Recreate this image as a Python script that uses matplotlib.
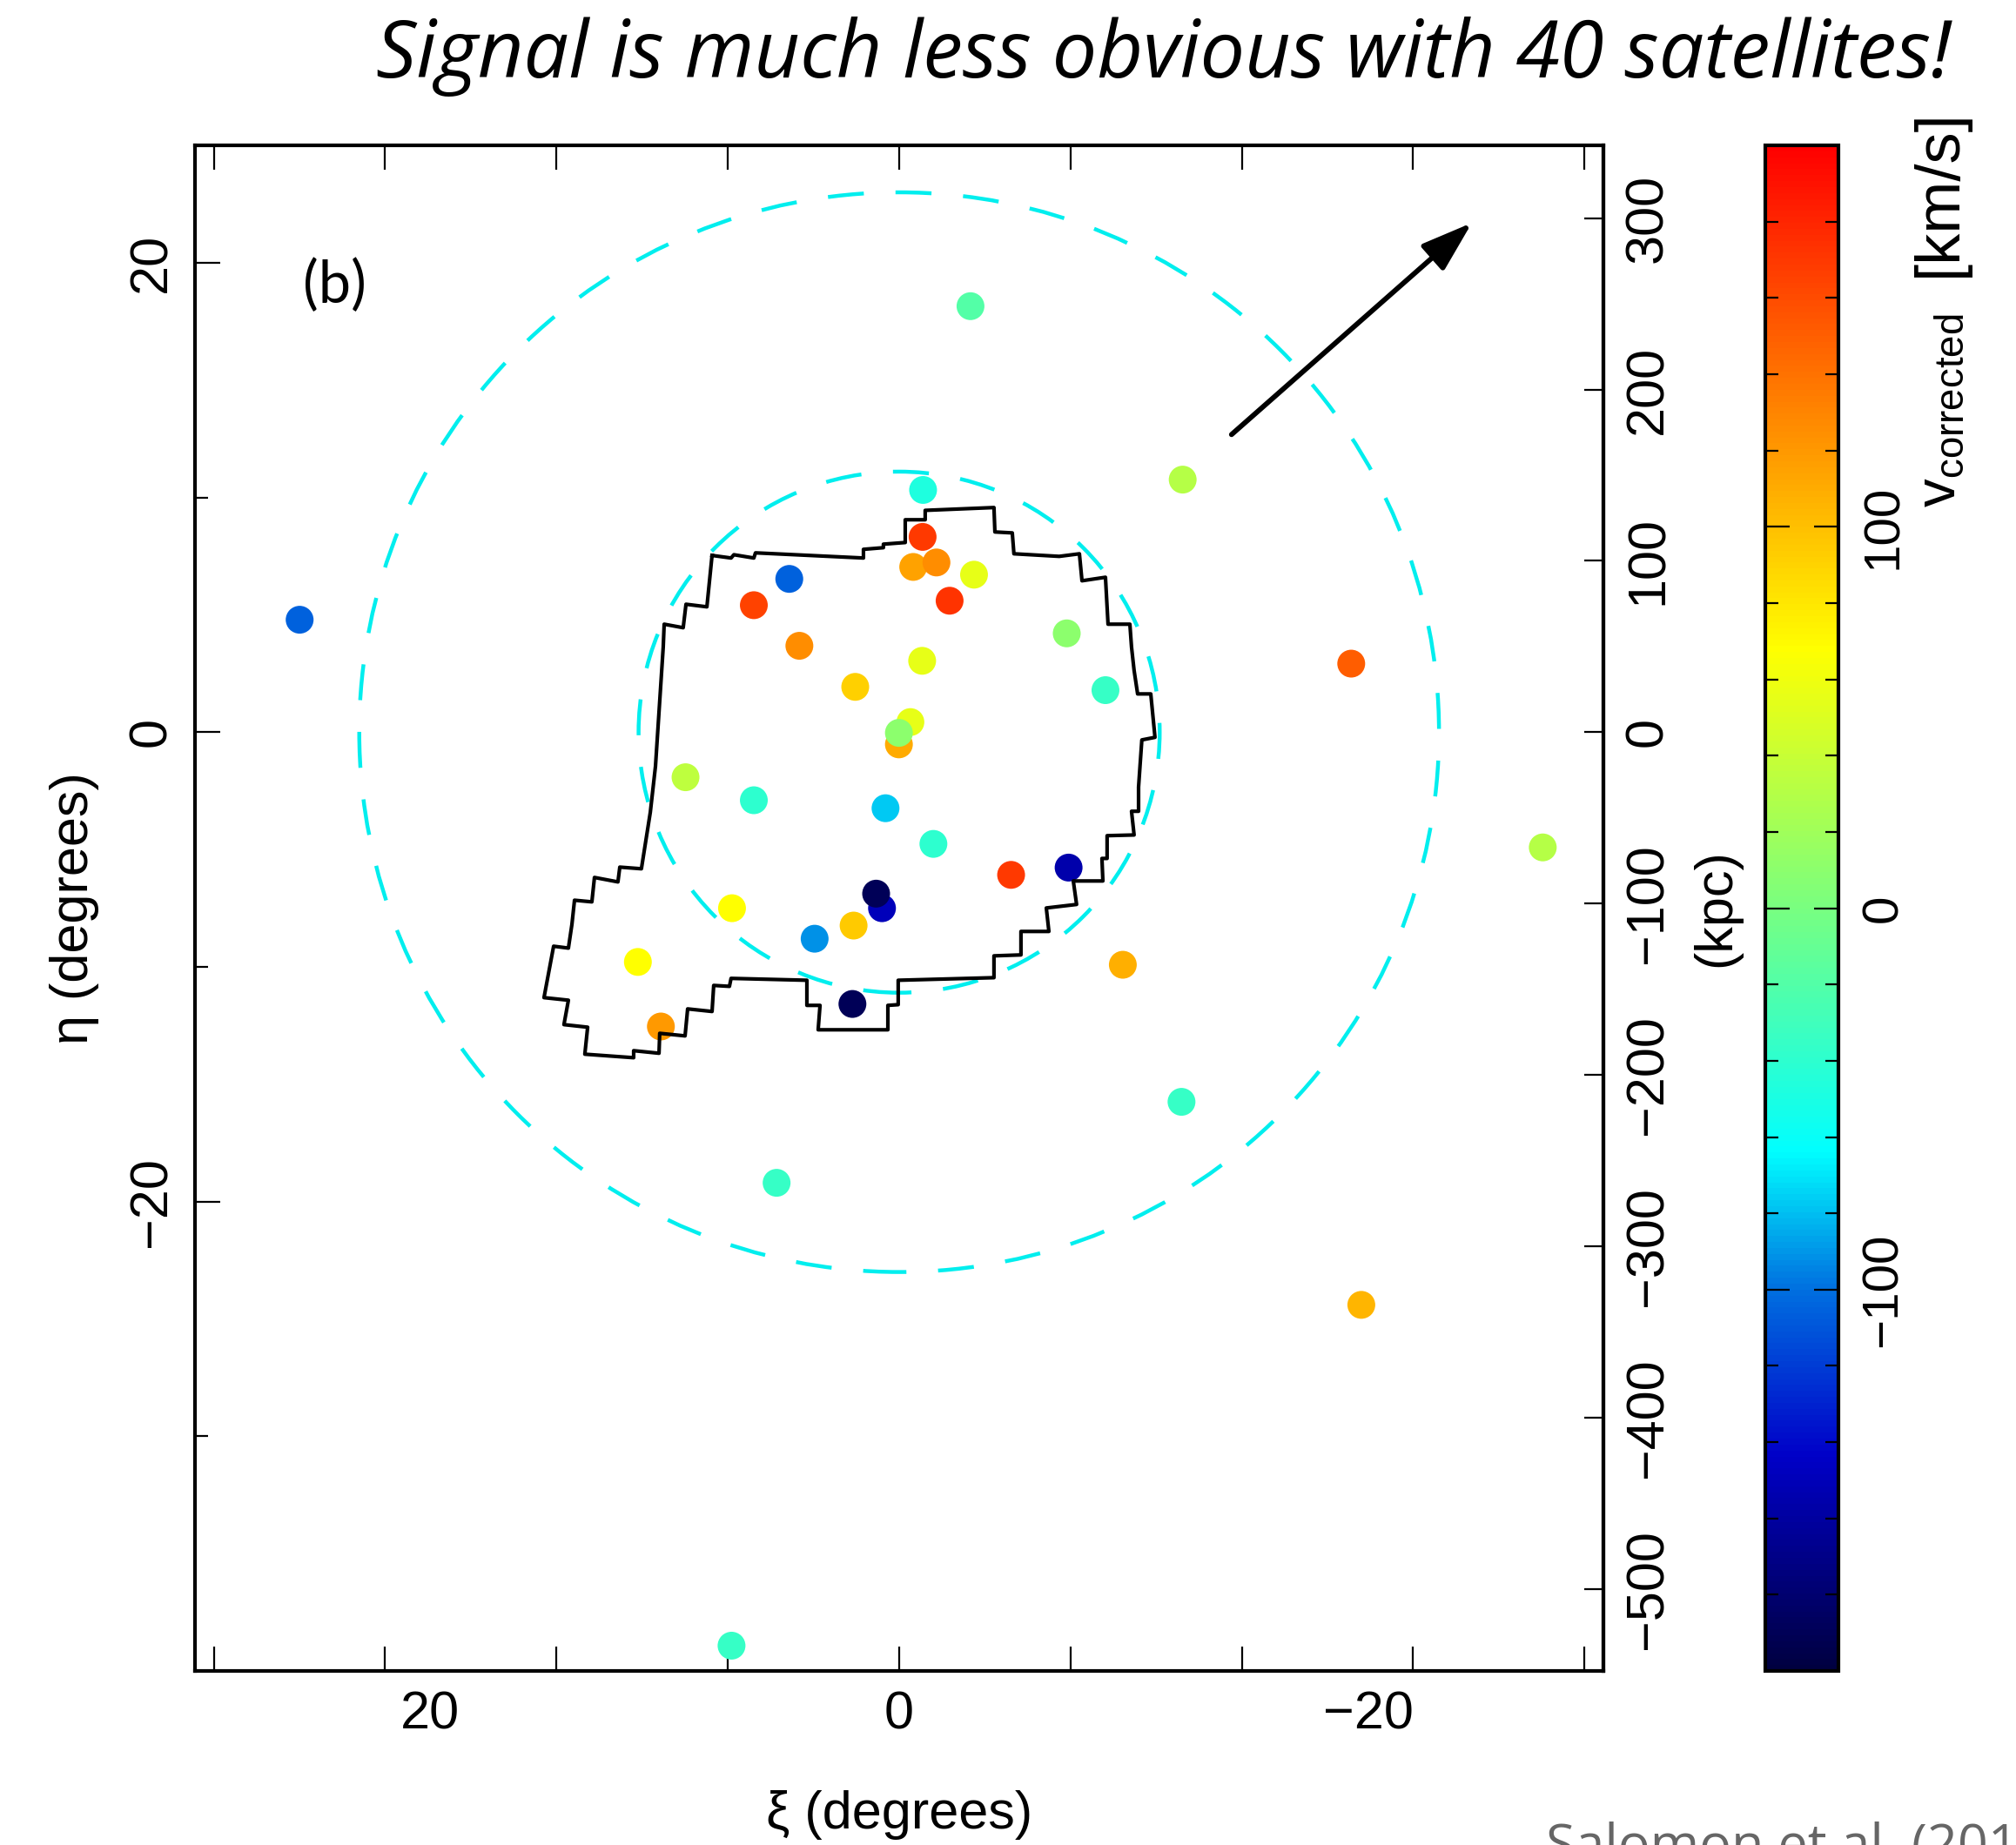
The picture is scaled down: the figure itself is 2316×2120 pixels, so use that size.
import numpy as np
import matplotlib
matplotlib.use('Agg')
import matplotlib.pyplot as plt
from matplotlib.colors import LinearSegmentedColormap
from matplotlib.patches import Circle

plt.rcParams['font.family'] = ['Liberation Sans Narrow', 'Liberation Sans', 'DejaVu Sans']

KPC_PER_DEG = 13.70

# satellites: tangent-plane position (deg) and corrected velocity (km/s)
sat_xi = [-3.04, -12.08, -1.02, 25.54, -19.26, -27.42, -9.53, -12.03, 5.22, -19.69,
          7.14, -1.00, -0.60, -1.59, -3.19, -2.15, 4.68, 6.19, 4.25, -0.98,
          1.87, -7.14, -8.79, -0.48, 0.01, 0.01, 9.10, 6.19, 0.58, -1.46,
          -4.77, -7.22, 0.73, 0.98, 7.12, 1.94, 3.60, 11.13, 10.15, 1.99]
sat_eta = [18.15, 10.76, 10.32, 4.79, 2.92, -4.91, -9.91, -15.75, -19.20, -24.40,
           -38.92, 8.32, 7.04, 7.23, 6.71, 5.60, 6.53, 5.41, 3.68, 3.04,
           1.93, 4.21, 1.79, 0.43, -0.52, -0.03, -1.92, -2.90, -3.24, -4.76,
           -6.08, -5.77, -7.50, -6.88, -7.50, -8.24, -8.80, -9.79, -12.54, -11.58]
sat_v = [-20, 30, -48, -105, 150, 30, 108, -35, -35, 105,
         -35, 170, 115, 125, 55, 172, -105, 165, 125, 55,
         92, 10, -35, 55, 110, 10, 35, -40, -78, -40,
         170, -155, -150, -190, 68, 95, -92, 68, 120, -190]

# survey footprint outline (deg)
foot_xi = [7.97, 7.16, 7.04, 6.19, 6.12, 1.52, 1.52, 0.67, 0.67, -0.26, -0.26, -1.11, -1.11,
           -4.04, -4.08, -4.82, -4.89, -6.82, -7.68, -7.79, -8.79, -8.90, -9.83, -9.90,
           -10.01, -10.16, -10.72, -10.90, -10.34, -10.27, -10.20, -10.20, -9.90, -10.01,
           -8.86, -8.86, -8.64, -8.68, -7.42, -7.56, -6.27, -6.38, -5.19, -5.19, -4.04,
           -4.04, 0.04, 0.04, 0.48, 0.48, 3.45, 3.37, 3.93, 3.93, 7.16, 7.23, 7.90, 7.97,
           9.01, 9.12, 10.20, 10.23, 11.31, 11.31, 13.39, 13.27, 14.28, 14.09, 15.13,
           14.72, 14.09, 13.94, 13.83, 13.09, 12.98, 11.98, 11.90, 10.98, 10.60, 10.38,
           10.05, 10.01, 9.20, 9.08, 8.19]
foot_eta = [7.53, 7.42, 7.56, 7.42, 7.64, 7.42, 7.79, 7.86, 8.01, 8.08, 9.05, 9.05, 9.45,
            9.57, 8.53, 8.49, 7.60, 7.49, 7.60, 6.45, 6.60, 4.60, 4.60, 3.63,
            2.63, 1.63, 1.63, -0.22, -0.33, -1.33, -2.34, -3.37, -3.37, -4.38,
            -4.41, -5.38, -5.38, -6.34, -6.34, -7.34, -7.49, -8.49, -8.49, -9.49, -9.53,
            -10.46, -10.57, -11.61, -11.64, -12.68, -12.68, -11.64, -11.64, -10.57, -10.49,
            -10.83, -10.79, -11.90, -11.79, -12.94, -12.83, -13.68, -13.57, -13.87, -13.72,
            -12.57, -12.46, -11.42, -11.31, -9.12, -9.20, -8.19, -7.16, -7.23, -6.19, -6.38,
            -5.75, -5.82, -3.41, -1.45, 3.63, 4.60, 4.45, 5.45, 5.34]

circle_radii = [23.0, 11.1]
arrow_tail = (-14.16, 12.68)
arrow_head = (-24.40, 21.70)

kpc_ticks_x = np.arange(-400, 401, 100)
kpc_ticks_y = np.arange(-500, 301, 100)
deg_ticks = [20, 0, -20]
deg_labels = ['20', '0', '\u221220']
deg_minor = [10, -10, -30]
cbar_ticks = [-100, 0, 100]
cbar_labels = ['\u2212100', '0', '100']
cbar_minor = np.arange(-180, 181, 20)

cmap_stops = [(0.0, '#000040'), (0.14, '#0000c8'), (0.25, '#0070e0'), (0.34, '#00ffff'),
              (0.5, '#78ff80'), (0.67, '#ffff00'), (0.8, '#ff9900'), (1.0, '#ff0000')]
cmap = LinearSegmentedColormap.from_list('vel', cmap_stops)

title = 'Signal is much less obvious with 40 satellites!'
credit = 'Salomon et al. (2015)'

fig = plt.figure(figsize=(23.16, 21.2), dpi=100)
ax = fig.add_axes([0.0967, 0.0943, 0.6986, 0.8269])
ax.set_xlim(30, -30)
ax.set_ylim(-40, 25)

for r in circle_radii:
    ax.add_patch(Circle((0, 0), r, fill=False, ec='#00eeee', lw=3.2,
                        ls=(0, (9.3, 8.2)), zorder=2))

sc = ax.scatter(sat_xi, sat_eta, c=sat_v, cmap=cmap, vmin=-200, vmax=200,
                s=530, edgecolors='none', zorder=3)

ax.plot(foot_xi + foot_xi[:1], foot_eta + foot_eta[:1], color='k', lw=3.0, zorder=4)

ax.annotate('', xy=arrow_head, xytext=arrow_tail,
            arrowprops=dict(arrowstyle='-|>,head_length=0.45,head_width=0.15',
                            mutation_scale=80, lw=4.2, color='k',
                            shrinkA=0, shrinkB=0))
ax.text(24.06, 19.0, '(b)', fontsize=48, family='Lato', ha='center', va='center')

# x: kpc ticks, degree labels
ax.xaxis.remove_overlapping_locs = False
ax.set_xticks(kpc_ticks_x / KPC_PER_DEG, labels=[''] * len(kpc_ticks_x))
ax.set_xticks(deg_ticks, labels=deg_labels, minor=True)
ax.tick_params(axis='x', which='major', direction='in', length=20, width=1.6,
               top=True, bottom=True)
ax.tick_params(axis='x', which='minor', length=0, labelsize=44, pad=16)

ax.set_yticks(deg_ticks, labels=deg_labels, rotation=90, va='center')
ax.set_yticks(deg_minor, minor=True)
ax.tick_params(axis='y', which='major', direction='in', length=21, width=1.6,
               left=True, right=False, labelsize=44, pad=15)
ax.tick_params(axis='y', which='minor', direction='in', length=11, width=1.6, right=False)
for sp in ax.spines.values():
    sp.set_linewidth(3.0)

ax.set_xlabel('\u03be (degrees)', fontsize=44)
ax.xaxis.set_label_coords(0.5, -0.078)
ax.set_ylabel('\u03b7 (degrees)', fontsize=44)
ax.yaxis.set_label_coords(-0.068, 0.5)

sec = ax.secondary_yaxis('right', functions=(lambda d: d * KPC_PER_DEG,
                                             lambda k: k / KPC_PER_DEG))
sec.set_ticks(kpc_ticks_y, labels=[str(t).replace('-', '\u2212') for t in kpc_ticks_y],
              rotation=90, va='center')
sec.tick_params(direction='in', length=16, width=1.6, labelsize=44, pad=17)
sec.spines['right'].set_linewidth(3.0)
sec.set_ylabel('(kpc)', fontsize=44, rotation=90, va='center', ha='center')
sec.yaxis.set_label_coords(1.080, 0.5, transform=ax.transAxes)

cax = fig.add_axes([0.8756, 0.0943, 0.0363, 0.8269])
cb = fig.colorbar(sc, cax=cax)
cb.set_ticks(cbar_ticks, labels=cbar_labels)
cax.set_yticks(cbar_minor, minor=True)
for lbl in cax.get_yticklabels():
    lbl.set_rotation(90)
    lbl.set_va('center')
cax.tick_params(which='both', direction='in', left=True, right=True, width=1.6,
                labelsize=42, pad=18)
cax.tick_params(which='major', length=20)
cax.tick_params(which='minor', length=11)
cb.outline.set_linewidth(3.0)
cax.text(2.6, 0.763, r'v$_{\mathregular{corrected}}$', rotation=90, rotation_mode='anchor',
         transform=cax.transAxes, ha='left', va='baseline', fontsize=47)
cax.text(2.6, 1.024, '[km/s]', rotation=90, rotation_mode='anchor',
         transform=cax.transAxes, ha='right', va='baseline', fontsize=52)

fig.text(0.968, 0.958, title, ha='right', va='baseline', fontsize=66,
         family='Open Sans', style='italic')
fig.text(0.767, -0.009, credit, ha='left', va='baseline', fontsize=44,
         family='Open Sans', color='#666666')

fig.savefig('out.png', dpi=100)
